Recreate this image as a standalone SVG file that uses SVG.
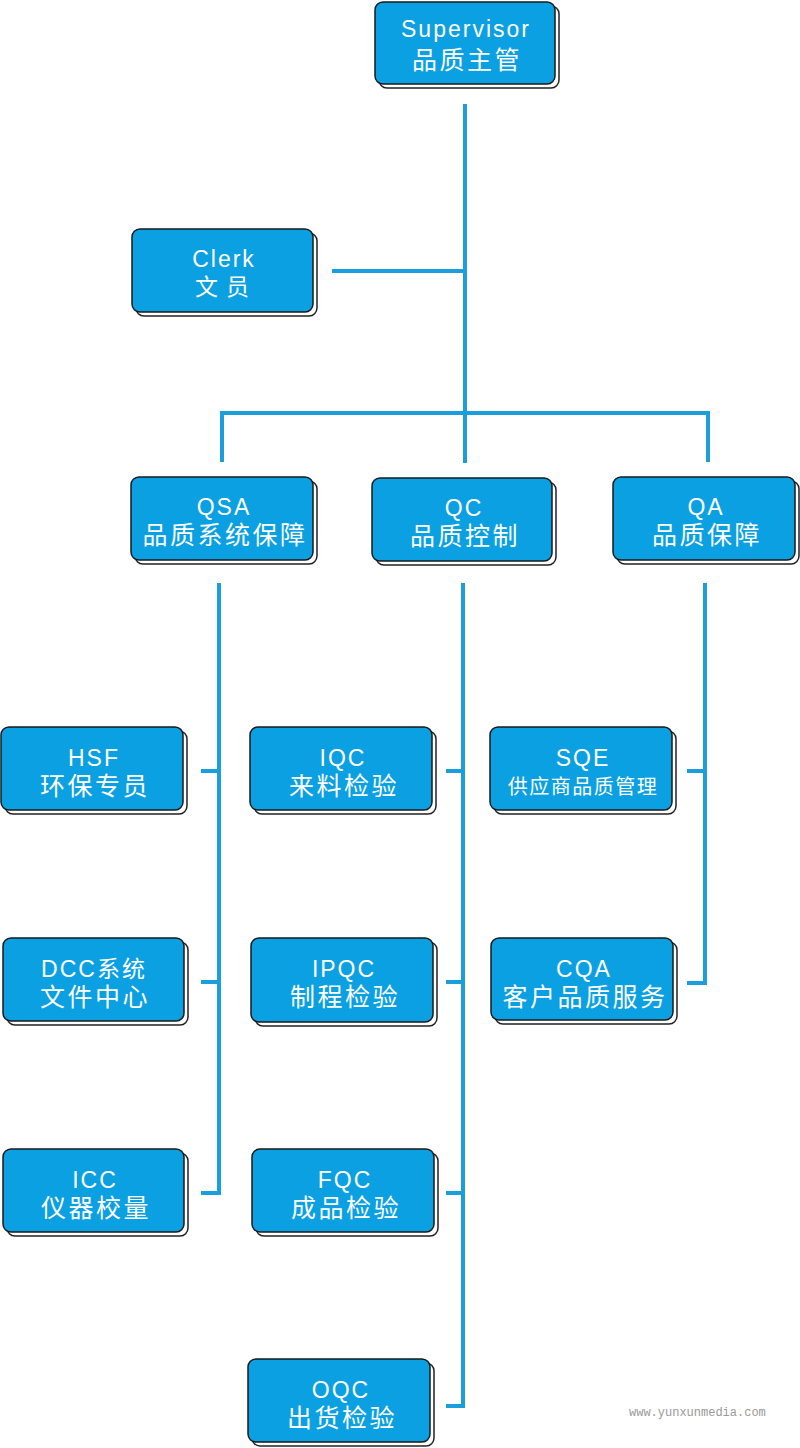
<svg xmlns="http://www.w3.org/2000/svg" width="800" height="1448" viewBox="0 0 800 1448">
<style>
.sh{fill:#ffffff;stroke:#222;stroke-width:1.5}
.bx{fill:#0aa0e2;stroke:#1a1a1a;stroke-width:1.5}
.t{font-family:"Liberation Sans","Noto Sans CJK SC",sans-serif;fill:#ffffff;text-anchor:middle;font-size:23px;letter-spacing:2px}
.c{font-family:"Liberation Sans","Noto Sans CJK SC",sans-serif;fill:#ffffff;text-anchor:middle;font-size:25px;letter-spacing:2.5px}
.cs{font-size:20px;letter-spacing:1.5px}
.ln{fill:none;stroke:#1a9fdc;stroke-width:4}
.wm{font-family:"Liberation Mono",monospace;font-size:12px;fill:#9a9a9a}
</style>
<rect width="800" height="1448" fill="#ffffff"/>
<g id="connectors">
<path class="ln" d="M465 104V413"/>
<path class="ln" d="M332 271H465"/>
<path class="ln" d="M222 462V413H708V462"/>
<path class="ln" d="M465 413V463"/>
<path class="ln" d="M219 583V1193H201"/>
<path class="ln" d="M201 771H219M201 982H219"/>
<path class="ln" d="M463 583V1406H446"/>
<path class="ln" d="M446 771H463M446 982H463M446 1193H463"/>
<path class="ln" d="M705 583V983H687"/>
<path class="ln" d="M687 771H705"/>
</g>
<g id="supervisor"><rect class="sh" x="379" y="6" width="180" height="82" rx="8"/><rect class="bx" x="375" y="2" width="180" height="82" rx="8"/><text class="t" x="466" y="37">Supervisor</text><text class="c" x="467" y="69">品质主管</text></g>
<g id="clerk"><rect class="sh" x="136" y="233" width="181" height="83" rx="8"/><rect class="bx" x="132" y="229" width="181" height="83" rx="8"/><text class="t" x="224" y="267">Clerk</text><text class="c" x="226" y="295" style="font-size:23px;letter-spacing:8px">文员</text></g>
<g id="qsa"><rect class="sh" x="135" y="481" width="182" height="83" rx="8"/><rect class="bx" x="131" y="477" width="182" height="83" rx="8"/><text class="t" x="224" y="515">QSA</text><text class="c" x="225" y="544">品质系统保障</text></g>
<g id="qc"><rect class="sh" x="376" y="482" width="180" height="83" rx="8"/><rect class="bx" x="372" y="478" width="180" height="83" rx="8"/><text class="t" x="464" y="516">QC</text><text class="c" x="465" y="545">品质控制</text></g>
<g id="qa"><rect class="sh" x="617" y="481" width="182" height="83" rx="8"/><rect class="bx" x="613" y="477" width="182" height="83" rx="8"/><text class="t" x="706" y="515">QA</text><text class="c" x="707" y="544">品质保障</text></g>
<g id="hsf"><rect class="sh" x="5" y="731" width="182" height="83" rx="8"/><rect class="bx" x="1" y="727" width="182" height="83" rx="8"/><text class="t" x="94" y="766">HSF</text><text class="c" x="95" y="795">环保专员</text></g>
<g id="iqc"><rect class="sh" x="254" y="731" width="182" height="83" rx="8"/><rect class="bx" x="250" y="727" width="182" height="83" rx="8"/><text class="t" x="343" y="766">IQC</text><text class="c" x="344" y="795">来料检验</text></g>
<g id="sqe"><rect class="sh" x="494" y="731" width="182" height="83" rx="8"/><rect class="bx" x="490" y="727" width="182" height="83" rx="8"/><text class="t" x="583" y="766">SQE</text><text class="c cs" x="583" y="794">供应商品质管理</text></g>
<g id="dcc"><rect class="sh" x="7" y="942" width="181" height="83" rx="8"/><rect class="bx" x="3" y="938" width="181" height="83" rx="8"/><text class="t" x="94" y="977">DCC系统</text><text class="c" x="95" y="1006">文件中心</text></g>
<g id="ipqc"><rect class="sh" x="255" y="942" width="182" height="84" rx="8"/><rect class="bx" x="251" y="938" width="182" height="84" rx="8"/><text class="t" x="344" y="977">IPQC</text><text class="c" x="345" y="1006">制程检验</text></g>
<g id="cqa"><rect class="sh" x="495" y="942" width="182" height="82" rx="8"/><rect class="bx" x="491" y="938" width="182" height="82" rx="8"/><text class="t" x="584" y="977">CQA</text><text class="c" x="585" y="1006">客户品质服务</text></g>
<g id="icc"><rect class="sh" x="7" y="1153" width="181" height="83" rx="8"/><rect class="bx" x="3" y="1149" width="181" height="83" rx="8"/><text class="t" x="95" y="1188">ICC</text><text class="c" x="96" y="1217">仪器校量</text></g>
<g id="fqc"><rect class="sh" x="256" y="1153" width="182" height="83" rx="8"/><rect class="bx" x="252" y="1149" width="182" height="83" rx="8"/><text class="t" x="345" y="1188">FQC</text><text class="c" x="346" y="1217">成品检验</text></g>
<g id="oqc"><rect class="sh" x="252" y="1363" width="182" height="83" rx="8"/><rect class="bx" x="248" y="1359" width="182" height="83" rx="8"/><text class="t" x="341" y="1398">OQC</text><text class="c" x="342" y="1427">出货检验</text></g>
<text class="wm" x="629" y="1416">www.yunxunmedia.com</text>
</svg>
